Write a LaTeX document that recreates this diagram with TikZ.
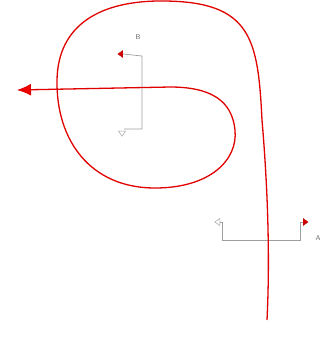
\documentclass[tikz,border=0pt]{standalone}
\usetikzlibrary{shapes.geometric,arrows.meta}
\begin{document}
\begin{tikzpicture}[x=1pt,y=-1pt,
  wire/.style={draw=gray!75,line width=0.7pt},
  tri/.style={isosceles triangle,isosceles triangle apex angle=70,inner sep=0pt,minimum height=5pt,minimum width=5pt},
  redtri/.style={tri,fill=red!80!black,draw=red!80!black,line width=0.3pt},
  opentri/.style={tri,draw=gray!70,fill=white,line width=0.5pt},
  lbl/.style={font=\fontsize{7}{8}\selectfont\sffamily,text=gray!80!black,inner sep=0pt},
  curve/.style={draw=red!88!black,line width=1.3pt}]
\useasboundingbox (0,0) rectangle (328,338);
% B structure
\node[redtri,shape border rotate=180] (tb1) at (121,54) {};
\node[opentri,shape border rotate=270] (tb2) at (122,133) {};
\node[lbl] (lb) at (138,37) {B};
\coordinate (b1) at (142,56);
\coordinate (b2) at (142,129);
\coordinate (b3) at (124,129);
\draw[wire] (tb1.east) -- (b1) -- (b2) -- (b3);
% A structure
\node[opentri,shape border rotate=180] (ta1) at (218,222) {};
\node[redtri] (ta2) at (305,222) {};
\node[lbl] (la) at (318,238) {A};
\coordinate (a1) at (222,222);
\coordinate (a2) at (222,240);
\coordinate (a3) at (300,240);
\coordinate (a4) at (300,222);
\draw[wire] (ta1.east) -- (a1) -- (a2) -- (a3) -- (a4) -- (ta2.west);
% red curve
\coordinate (start) at (267,320);
\coordinate (tip) at (17,90);
\draw[curve,-{Latex[length=14pt,width=12pt,fill=red!95!black]}]
  (start) .. controls (270,260) and (268,190) .. (262,120)
  .. controls (258,40) and (252,2) .. (165,1)
  .. controls (100,0) and (58,25) .. (57,80)
  .. controls (56,140) and (90,188) .. (155,188)
  .. controls (210,188) and (238,160) .. (235,130)
  .. controls (232,100) and (210,87) .. (170,87)
  -- (tip);
\end{tikzpicture}
\end{document}
